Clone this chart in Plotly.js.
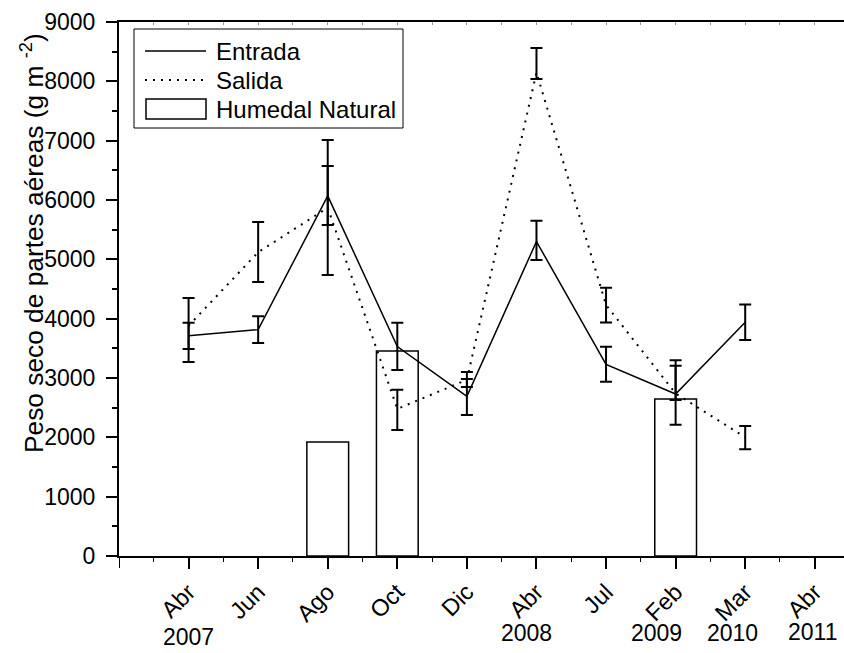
<!DOCTYPE html>
<html>
<head>
<meta charset="utf-8">
<script src="https://cdn.plot.ly/plotly-3.0.1.min.js"></script>
<style>
  html, body { margin: 0; padding: 0; background: #fff; }
  #chart { width: 844px; height: 653px; }
</style>
</head>
<body>
<div id="chart"></div>
<script>
// Sampling months (2007 - 2011)
const months = ['Abr', 'Jun', 'Ago', 'Oct', 'Dic', 'Abr', 'Jul', 'Feb', 'Mar', 'Abr'];
const years = ['2007', '', '', '', '', '2008', '', '2009', '2010', '2011'];

// Dry weight of aerial parts (g m-2)
const entrada = [3710, 3815, 6070, 3530, 2690, 5300, 3230, 2730, 3940, null];
const entradaErrUp = [220, 225, 505, 400, 295, 350, 295, 475, 300, null];
const entradaErrDown = [220, 225, 490, 395, 315, 310, 295, 520, 300, null];

const salida = [3880, 5120, 5870, 2480, 2970, 8150, 4230, 2740, 2000, null];
const salidaErrUp = [470, 510, 1140, 320, 130, 410, 290, 560, 190, null];
const salidaErrDown = [610, 500, 1135, 355, 120, 110, 295, 110, 200, null];

const humedal = [null, null, 1920, 3455, null, null, null, 2645, null, null];

const seriesNames = ['Entrada', 'Salida', 'Humedal Natural'];
const yTitle = 'Peso seco de partes aéreas (g m <sup>-2</sup>)';

// x positions are the sampling order (1..n)
const xs = months.map((_, i) => i + 1);

const FONT = 'Liberation Sans, Arial, sans-serif';
const W = 844, H = 653;
const M = { l: 119, r: 0, t: 22, b: 97 };
const px = x => (x - M.l) / (W - M.l - M.r);
const py = y => (H - M.b - y) / (H - M.t - M.b);

const errStyle = { type: 'data', symmetric: false, color: '#000', thickness: 2, width: 6 };

const traces = [
  {
    type: 'bar', x: xs, y: humedal, name: seriesNames[2], width: 0.6,
    marker: { color: '#fff', line: { color: '#000', width: 1.5 } },
    showlegend: false, hoverinfo: 'x+y'
  },
  {
    type: 'scatter', mode: 'lines', x: xs, y: entrada, name: seriesNames[0],
    line: { color: '#000', width: 1.5 },
    error_y: Object.assign({}, errStyle, { array: entradaErrUp, arrayminus: entradaErrDown }),
    showlegend: false
  },
  {
    type: 'scatter', mode: 'lines', x: xs, y: salida, name: seriesNames[1],
    line: { color: '#000', width: 2, dash: '2px,6px' },
    error_y: Object.assign({}, errStyle, { array: salidaErrUp, arrayminus: salidaErrDown }),
    showlegend: false
  },
  // carries the top frame axis
  { type: 'scatter', mode: 'none', x: [0], y: [0], xaxis: 'x2', showlegend: false, hoverinfo: 'skip' }
];

const xRange = [0, 10.42];

// Legend drawn as a framed box with sample marks
const legendShapes = [
  { type: 'rect', xref: 'paper', yref: 'paper', x0: px(134), x1: px(403), y0: py(29), y1: py(128),
    line: { color: '#000', width: 1 }, fillcolor: '#fff', layer: 'above' },
  { type: 'line', xref: 'paper', yref: 'paper', x0: px(145), x1: px(206), y0: py(51), y1: py(51),
    line: { color: '#000', width: 1.5 }, layer: 'above' },
  { type: 'line', xref: 'paper', yref: 'paper', x0: px(145), x1: px(206), y0: py(80), y1: py(80),
    line: { color: '#000', width: 2, dash: '2px,6px' }, layer: 'above' },
  { type: 'rect', xref: 'paper', yref: 'paper', x0: px(146), x1: px(206), y0: py(99), y1: py(119),
    line: { color: '#000', width: 1.5 }, fillcolor: '#fff', layer: 'above' },
  // major tick at the origin of the x axis
  { type: 'line', xref: 'x', yref: 'paper', x0: 0, x1: 0, y0: 0, y1: py(H - M.b + 12),
    line: { color: '#000', width: 2 }, layer: 'above' }
];
const legendRows = [51, 80, 110];
const legendLabels = seriesNames.map((name, i) => ({
  xref: 'paper', yref: 'paper', x: px(214), y: py(legendRows[i]),
  xanchor: 'left', yanchor: 'middle', showarrow: false, text: name,
  font: { family: FONT, size: 24, color: '#000' }
}));

// Year labels below the month ticks
const yearShift = [0, 0, 0, 0, 0, -10, 0, -19, -13, -2];
const yearRow = [637, 0, 0, 0, 0, 633, 0, 633, 633, 632];
const yearLabels = [];
years.forEach((yr, i) => {
  if (!yr) return;
  yearLabels.push({
    xref: 'x', yref: 'paper', x: xs[i], y: py(yearRow[i]), xshift: yearShift[i],
    xanchor: 'center', yanchor: 'middle', showarrow: false, text: yr,
    font: { family: FONT, size: 23, color: '#000' }
  });
});

const titleAnno = {
  xref: 'paper', yref: 'paper', x: px(32), y: py(243), textangle: -90,
  xanchor: 'center', yanchor: 'middle', showarrow: false, text: yTitle,
  font: { family: FONT, size: 26.3, color: '#000' }
};

const layout = {
  width: W, height: H,
  margin: M,
  paper_bgcolor: '#fff', plot_bgcolor: '#fff',
  font: { family: FONT, size: 23, color: '#000' },
  showlegend: false,
  bargap: 0,
  xaxis: {
    range: xRange, tickmode: 'array',
    tickvals: xs, ticktext: months,
    tickangle: -45, ticks: 'outside', ticklen: 11, tickwidth: 2, tickcolor: '#000',
    showline: true, linewidth: 2, linecolor: '#000',
    showgrid: false, zeroline: false,
    tickfont: { family: FONT, size: 23.5, color: '#000' },
    minor: { tickmode: 'linear', tick0: 0, dtick: 0.5, ticks: 'outside', ticklen: 4, tickwidth: 1, tickcolor: '#000', showgrid: false }
  },
  xaxis2: {
    overlaying: 'x', side: 'top', anchor: 'y', range: xRange,
    showline: true, linewidth: 2, linecolor: '#000',
    tickmode: 'linear', tick0: 0, dtick: 0.5,
    ticks: 'inside', ticklen: 3, tickwidth: 1, tickcolor: '#999',
    showticklabels: false, showgrid: false, zeroline: false
  },
  yaxis: {
    range: [0, 9000], tickmode: 'linear', tick0: 0, dtick: 1000,
    ticks: 'outside', ticklen: 11, tickwidth: 2, tickcolor: '#000',
    showline: true, linewidth: 2, linecolor: '#000',
    showgrid: false, zeroline: false, ticklabelstandoff: 6,
    tickfont: { family: FONT, size: 23, color: '#000' },
    minor: { tickmode: 'linear', tick0: 0, dtick: 500, ticks: 'outside', ticklen: 5, tickwidth: 2, tickcolor: '#000', showgrid: false }
  },
  shapes: legendShapes,
  annotations: [titleAnno].concat(legendLabels, yearLabels)
};

Plotly.newPlot('chart', traces, layout, { staticPlot: true, displayModeBar: false });
</script>
</body>
</html>
